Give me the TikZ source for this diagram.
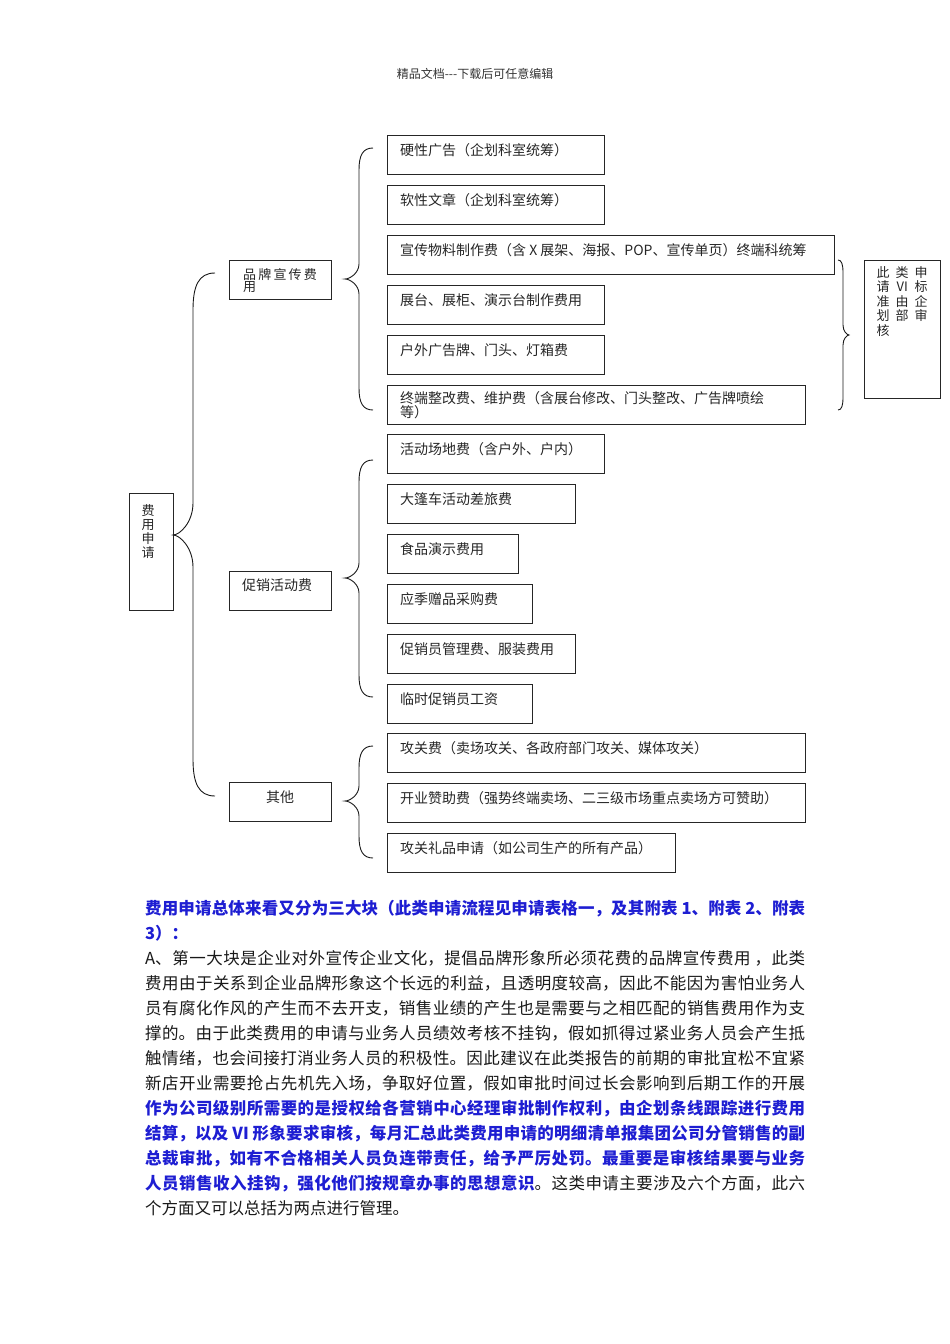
\documentclass[tikz,border=0pt]{standalone}
\usepackage{fontspec}
\setmainfont{Noto Sans CJK SC}
\usetikzlibrary{calc}
\XeTeXlinebreaklocale "zh"
\XeTeXlinebreakskip=0pt plus 3pt
\definecolor{bluet}{RGB}{30,30,210}
\newcommand{\bb}[1]{{\color{bluet}\bfseries #1}}
% justified body line
\newcommand{\jline}[3]{\node[anchor=base west,inner sep=0pt,text=black!90] (#1) at (145,#2) {\parbox[b]{660pt}{\fontsize{16.5}{25}\selectfont\parfillskip=0pt\relax #3}};}
% last (ragged) body line
\newcommand{\lline}[3]{\node[anchor=base west,inner sep=0pt,text=black!90] (#1) at (145,#2) {\fontsize{16.5}{25}\selectfont #3};}
% brace: #1 end x, #2 stem x, #3 tip x, #4 top y, #5 tip y, #6 bottom y, #7 end radius, #8 tip radius
\newcommand{\bracL}[8]{\draw[brc] (#1,#4) .. controls ({#2+0.25*(#1-#2)},#4) and (#2,{#4+0.35*#7}) .. (#2,{#4+#7}) -- (#2,{#5-#8}) .. controls (#2,{#5-0.4*#8}) and ({#3+0.35*(#2-#3)},#5) .. (#3,#5) .. controls ({#3+0.35*(#2-#3)},#5) and (#2,{#5+0.4*#8}) .. (#2,{#5+#8}) -- (#2,{#6-#7}) .. controls (#2,{#6-0.35*#7}) and ({#2+0.25*(#1-#2)},#6) .. (#1,#6);}
\begin{document}
\begin{tikzpicture}[x=1pt,y=-1pt,
  bx/.style={draw=black!85,line width=1.1pt,inner sep=0pt,anchor=north west},
  bt/.style={inner sep=0pt,anchor=west,text=black!85,font=\fontsize{14}{13}\selectfont},
  brc/.style={draw=black!90,line width=0.9pt}]
\useasboundingbox (0,0) rectangle (950,1344);

\node[inner sep=0pt,text=black!80,font=\fontsize{12}{14}\selectfont] (hdr) at (475,74) {精品文档-{}-{}-下载后可任意编辑};

% level 0 / 1 boxes
\node[bx,minimum width=44pt,minimum height=117pt] (fy) at (129,493) {};
\node[bx,minimum width=102pt,minimum height=39pt] (pp) at (229,260) {};
\node[bx,minimum width=102pt,minimum height=39pt] (cx) at (229,571) {};
\node[bx,minimum width=102pt,minimum height=39pt] (qt) at (229,782) {};

% level 2 boxes
\node[bx,minimum width=217pt,minimum height=39pt] (b1) at (387,135) {};
\node[bx,minimum width=217pt,minimum height=39pt] (b2) at (387,185) {};
\node[bx,minimum width=447pt,minimum height=39pt] (b3) at (387,235) {};
\node[bx,minimum width=217pt,minimum height=39pt] (b4) at (387,285) {};
\node[bx,minimum width=217pt,minimum height=39pt] (b5) at (387,335) {};
\node[bx,minimum width=418pt,minimum height=39pt] (b6) at (387,385) {};
\node[bx,minimum width=217pt,minimum height=39pt] (b7) at (387,434) {};
\node[bx,minimum width=188pt,minimum height=39pt] (b8) at (387,484) {};
\node[bx,minimum width=131pt,minimum height=39pt] (b9) at (387,534) {};
\node[bx,minimum width=145pt,minimum height=39pt] (b10) at (387,584) {};
\node[bx,minimum width=188pt,minimum height=39pt] (b11) at (387,634) {};
\node[bx,minimum width=145pt,minimum height=39pt] (b12) at (387,684) {};
\node[bx,minimum width=418pt,minimum height=39pt] (b13) at (387,733) {};
\node[bx,minimum width=418pt,minimum height=39pt] (b14) at (387,783) {};
\node[bx,minimum width=288pt,minimum height=39pt] (b15) at (387,833) {};
\node[bx,minimum width=76pt,minimum height=138pt] (rb) at (864,260) {};

% texts
\node[bt,anchor=north,align=center,font=\fontsize{13}{14}\selectfont] (fyt) at (148,504) {费\\用\\申\\请};
\node[bt,anchor=north west,align=left,font=\fontsize{13}{12.5}\selectfont] (ppt) at (243,268) {品\,牌\,宣\,传\,费\\用};
\node[bt] (cxt) at (242,585) {促销活动费};
\node[bt,anchor=center] (qtt) at (280,797) {其他};

\node[bt] (b1t) at ($(b1.north west)+(13,15)$) {硬性广告（企划科室统筹）};
\node[bt] (b2t) at ($(b2.north west)+(13,15)$) {软性文章（企划科室统筹）};
\node[bt] (b3t) at ($(b3.north west)+(13,15)$) {宣传物料制作费（含 X 展架、海报、POP、宣传单页）终端科统筹};
\node[bt] (b4t) at ($(b4.north west)+(13,15)$) {展台、展柜、演示台制作费用};
\node[bt] (b5t) at ($(b5.north west)+(13,15)$) {户外广告牌、门头、灯箱费};
\node[bt,anchor=north west,align=left] (b6t) at ($(b6.north west)+(13,6)$) {终端整改费、维护费（含展台修改、门头整改、广告牌喷绘\\等）};
\node[bt] (b7t) at ($(b7.north west)+(13,15)$) {活动场地费（含户外、户内）};
\node[bt] (b8t) at ($(b8.north west)+(13,15)$) {大篷车活动差旅费};
\node[bt] (b9t) at ($(b9.north west)+(13,15)$) {食品演示费用};
\node[bt] (b10t) at ($(b10.north west)+(13,15)$) {应季赠品采购费};
\node[bt] (b11t) at ($(b11.north west)+(13,15)$) {促销员管理费、服装费用};
\node[bt] (b12t) at ($(b12.north west)+(13,15)$) {临时促销员工资};
\node[bt] (b13t) at ($(b13.north west)+(13,15)$) {攻关费（卖场攻关、各政府部门攻关、媒体攻关）};
\node[bt] (b14t) at ($(b14.north west)+(13,15)$) {开业赞助费（强势终端卖场、二三级市场重点卖场方可赞助）};
\node[bt] (b15t) at ($(b15.north west)+(13,15)$) {攻关礼品申请（如公司生产的所有产品）};
\node[bt,anchor=north west,align=left,font=\fontsize{13}{14.5}\selectfont] (rbt) at (873.5,266) {\makebox[19pt]{此}\makebox[19pt]{类}\makebox[19pt]{申}\\\makebox[19pt]{请}\makebox[19pt]{VI}\makebox[19pt]{标}\\\makebox[19pt]{准}\makebox[19pt]{由}\makebox[19pt]{企}\\\makebox[19pt]{划}\makebox[19pt]{部}\makebox[19pt]{审}\\\makebox[19pt]{核}};

% braces
\bracL{215}{193}{173}{273}{535}{796}{37}{32}
\bracL{373}{359}{345}{148}{279}{410}{22}{15}
\bracL{373}{359}{345}{460}{578}{697}{22}{15}
\bracL{373}{359}{345}{746}{801}{858}{22}{15}
\bracL{838}{843}{849}{260}{335}{410}{13}{10}

% body text
\jline{l1}{914}{\bb{费用申请总体来看又分为三大块（此类申请流程见申请表格一，及其附表 1、附表 2、附表}}
\lline{l2}{939}{\bb{3）：}}
\jline{l3}{964}{A、第一大块是企业对外宣传企业文化，提倡品牌形象所必须花费的品牌宣传费用 ，此类}
\jline{l4}{989}{费用由于关系到企业品牌形象这个长远的利益，且透明度较高，因此不能因为害怕业务人}
\jline{l5}{1014}{员有腐化作风的产生而不去开支，销售业绩的产生也是需要与之相匹配的销售费用作为支}
\jline{l6}{1039}{撑的。由于此类费用的申请与业务人员绩效考核不挂钩，假如抓得过紧业务人员会产生抵}
\jline{l7}{1064}{触情绪，也会间接打消业务人员的积极性。因此建议在此类报告的前期的审批宜松不宜紧}
\jline{l8}{1089}{新店开业需要抢占先机先入场，争取好位置，假如审批时间过长会影响到后期工作的开展}
\jline{l9}{1114}{\bb{作为公司级别所需要的是授权给各营销中心经理审批制作权利，由企划条线跟踪进行费用}}
\jline{l10}{1139}{\bb{结算，以及 VI 形象要求审核，每月汇总此类费用申请的明细清单报集团公司分管销售的副}}
\jline{l11}{1164}{\bb{总裁审批，如有不合格相关人员负连带责任，给予严厉处罚。最重要是审核结果要与业务}}
\jline{l12}{1189}{\bb{人员销售收入挂钩，强化他们按规章办事的思想意识}。这类申请主要涉及六个方面，此六}
\lline{l13}{1214}{个方面又可以总括为两点进行管理。}
\end{tikzpicture}
\end{document}
